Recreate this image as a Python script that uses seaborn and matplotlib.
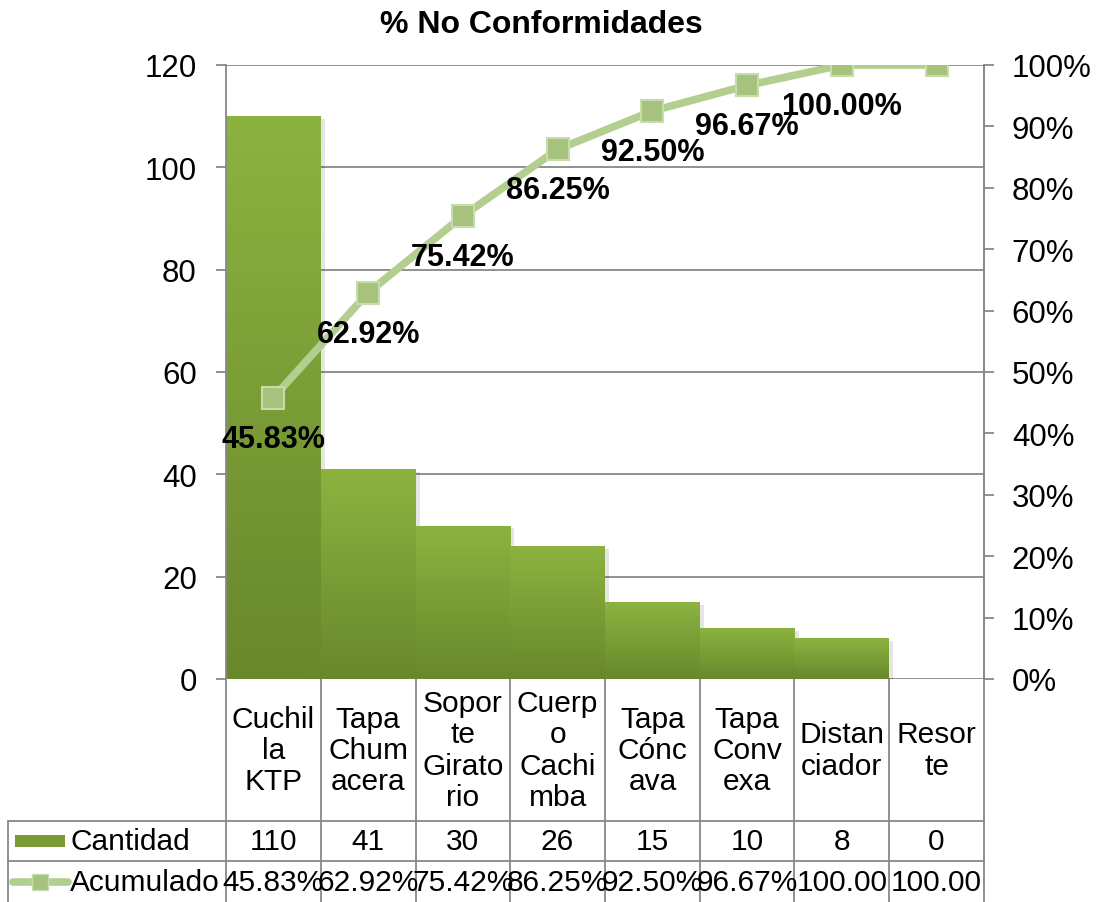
import numpy as np
import matplotlib
matplotlib.use("Agg")
import matplotlib.pyplot as plt
import seaborn as sns
from matplotlib.patches import Rectangle
from matplotlib.lines import Line2D
from matplotlib.colors import LinearSegmentedColormap
import matplotlib.patheffects as pe

# ---- data ----
categorias = ["Cuchil\nla\nKTP", "Tapa\nChum\nacera", "Sopor\nte\nGirato\nrio",
              "Cuerp\no\nCachi\nmba", "Tapa\nCónc\nava", "Tapa\nConv\nexa",
              "Distan\nciador", "Resor\nte"]
cantidad = [110, 41, 30, 26, 15, 10, 8, 0]
acumulado = [45.83, 62.92, 75.42, 86.25, 92.50, 96.67, 100.00, 100.00]
acum_tabla = ["45.83%", "62.92%", "75.42%", "86.25%", "92.50%", "96.67%", "100.00", "100.00"]
etiquetas = ["45.83%", "62.92%", "75.42%", "86.25%", "92.50%", "96.67%", "100.00%"]
ticks_izq = [0, 20, 40, 60, 80, 100, 120]
ticks_der = list(range(0, 101, 10))
titulo = "% No Conformidades"

sns.set_theme(style="white")
plt.rcParams["font.family"] = ["Liberation Sans", "DejaVu Sans"]

W, H = 1099, 903
fig = plt.figure(figsize=(W / 100, H / 100), dpi=100)
L, R, T, B = 226, 984, 66, 680
ax = fig.add_axes([L / W, 1 - B / H, (R - L) / W, (B - T) / H])

GRID = "#888888"
BAR_TOP = "#8cb340"
BAR_BOT = "#68882c"
LINE_C = "#b3cf8f"
MARK_C = "#a5c37c"
MARK_E = "#c7dcab"
FS = 21.5      # table text
FS_TICK = 22.5

# ---- bars ----
sns.barplot(x=list(range(len(cantidad))), y=cantidad, ax=ax, width=1.0,
            color=BAR_TOP, saturation=1, edgecolor="none", zorder=2)
cmap = LinearSegmentedColormap.from_list("verde", [BAR_BOT, BAR_TOP])
grad = np.linspace(0, 1, 256).reshape(-1, 1)
for p in ax.patches:
    h = p.get_height()
    if h <= 0:
        continue
    p.set_path_effects([pe.SimplePatchShadow(offset=(3, -2), shadow_rgbFace="#000000", alpha=0.10),
                        pe.Normal()])
    im = ax.imshow(grad, extent=[p.get_x(), p.get_x() + p.get_width(), 0, h],
                   origin="lower", cmap=cmap, aspect="auto", zorder=2.5)
    im.set_clip_path(p)

ax.set_xlim(-0.5, len(cantidad) - 0.5)
ax.set_ylim(0, 120)
ax.set_yticks(ticks_izq)
ax.set_yticklabels([str(t) for t in ticks_izq], fontsize=FS_TICK)
ax.set_xticks([])
ax.set_xlabel("")
ax.yaxis.grid(True, color=GRID, linewidth=1.3, zorder=0)
ax.set_axisbelow(True)
ax.tick_params(axis="y", which="both", left=True, length=7, width=1.3,
               color=GRID, pad=14, labelcolor="black")
for s in ["top", "bottom"]:
    ax.spines[s].set_visible(False)
for s in ["left", "right"]:
    ax.spines[s].set_color(GRID)
    ax.spines[s].set_linewidth(1.3)

# ---- cumulative line ----
ax2 = ax.twinx()
x = list(range(len(acumulado)))
sns.lineplot(x=x, y=acumulado, ax=ax2, color=LINE_C, linewidth=5.5, marker="s",
             markersize=16, markerfacecolor=MARK_C, markeredgecolor=MARK_E,
             markeredgewidth=1.5, zorder=5)
ax2.set_ylim(0, 100)
ax2.set_yticks(ticks_der)
ax2.set_yticklabels([f"{t}%" for t in ticks_der], fontsize=FS_TICK)
ax2.tick_params(axis="y", right=True, length=7, width=1.3, color=GRID, pad=13, labelcolor="black")
ax2.set_ylabel("")
for s in ax2.spines.values():
    s.set_visible(False)
ax2.spines["right"].set_visible(True)
ax2.spines["right"].set_color(GRID)
ax2.spines["right"].set_linewidth(1.3)

for i, t in enumerate(etiquetas):
    ax2.annotate(t, (x[i], acumulado[i]), xytext=(0, -29.5), textcoords="offset points",
                 ha="center", va="center", fontsize=22, fontweight="bold", color="black",
                 zorder=6)

fig.text(541 / W, 1 - 25 / H, titulo, ha="center", va="center", fontsize=23,
         fontweight="bold", color="black")

# ---- data table under the axis ----
def ay(py):
    return (B - py) / (B - T)

def axx(px):
    return (px - L) / (R - L)

tr = ax.get_xaxis_transform()
ln = dict(color=GRID, linewidth=1.3, clip_on=False, zorder=1)
n = len(cantidad)
for k in range(n + 1):
    ax.plot([k - 0.5, k - 0.5], [ay(B), ay(H + 5)], transform=tr, **ln)
ax.plot([axx(8), axx(8)], [ay(822), ay(H + 5)], transform=ax.transAxes, **ln)
for py in (822, 862):
    ax.plot([axx(8), 1], [ay(py), ay(py)], transform=ax.transAxes, **ln)

for i in range(n):
    ax.text(i, ay(751), categorias[i], transform=tr, ha="center", va="center",
            fontsize=FS, linespacing=1.15, color="black", clip_on=False)
    ax.text(i, ay(842), str(cantidad[i]), transform=tr, ha="center", va="center",
            fontsize=FS, color="black", clip_on=False)
    ax.text(i, ay(883), acum_tabla[i], transform=tr, ha="center", va="center",
            fontsize=FS, color="black", clip_on=False)

ax.text(axx(70), ay(842), "Cantidad", transform=ax.transAxes, ha="left", va="center",
        fontsize=FS, color="black", clip_on=False)
ax.text(axx(70), ay(883), "Acumulado", transform=ax.transAxes, ha="left", va="center",
        fontsize=FS, color="black", clip_on=False)

ax.add_patch(Rectangle((axx(15), ay(848)), axx(65) - axx(15), ay(836) - ay(848),
                       transform=ax.transAxes, facecolor="#7a9b34", edgecolor="none",
                       clip_on=False))
ax.add_line(Line2D([axx(13), axx(68)], [ay(883), ay(883)], transform=ax.transAxes,
                   color=LINE_C, linewidth=5.5, solid_capstyle="round", clip_on=False))
ax.add_line(Line2D([axx(40)], [ay(883)], transform=ax.transAxes, marker="s",
                   markersize=12, markerfacecolor=MARK_C, markeredgecolor=MARK_E,
                   linestyle="none", clip_on=False))

fig.savefig("out.png", dpi=100, facecolor="white")
